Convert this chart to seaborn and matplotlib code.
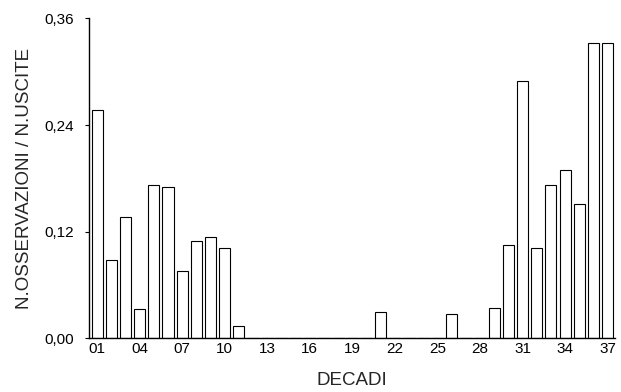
import pandas as pd
import matplotlib
matplotlib.use('Agg')
import matplotlib.pyplot as plt
import seaborn as sns
from matplotlib.ticker import FuncFormatter

sns.set_style('ticks')
plt.rcParams['font.family'] = ['Liberation Sans', 'DejaVu Sans']

decadi = [f'{i:02d}' for i in range(1, 38)]
rapporto = [0.257, 0.088, 0.136, 0.033, 0.172, 0.170, 0.076, 0.110, 0.114, 0.102,
            0.014, 0.0, 0.0, 0.0, 0.0, 0.0, 0.0, 0.0, 0.0, 0.0,
            0.030, 0.0, 0.0, 0.0, 0.0, 0.027, 0.0, 0.0, 0.034, 0.105,
            0.290, 0.102, 0.172, 0.189, 0.151, 0.332, 0.332]
tick_labels = decadi[::3]

df = pd.DataFrame({'decade': decadi, 'ratio': rapporto})

fig = plt.figure(figsize=(6.21, 3.92), dpi=100)
ax = fig.add_axes([0.1433, 0.137, 0.8467, 0.816])

sns.barplot(data=df, x='decade', y='ratio', order=decadi, color='white',
            edgecolor='black', linewidth=0.8, width=0.78, saturation=1, ax=ax)

ax.set_xlim(-0.57, 36.5)
ax.set_ylim(0, 0.36)
ax.set_yticks([0, 0.12, 0.24, 0.36])
ax.yaxis.set_major_formatter(FuncFormatter(lambda v, p: f'{v:.2f}'.replace('.', ',')))
ax.set_xticks(range(0, 37, 3))
ax.set_xticklabels(tick_labels)

ax.tick_params(axis='x', length=0, pad=3, labelsize=11, colors='black')
ax.tick_params(axis='y', length=3, width=0.8, pad=8, labelsize=11, colors='black')

ax.set_xlabel('DECADI', fontsize=13.5, labelpad=11)
ax.set_ylabel('N.OSSERVAZIONI / N.USCITE', fontsize=13.5, labelpad=8)

sns.despine(ax=ax)
for s in ['left', 'bottom']:
    ax.spines[s].set_color('black')
    ax.spines[s].set_linewidth(1.0)

plt.savefig('out.png', dpi=100)
plt.close()
